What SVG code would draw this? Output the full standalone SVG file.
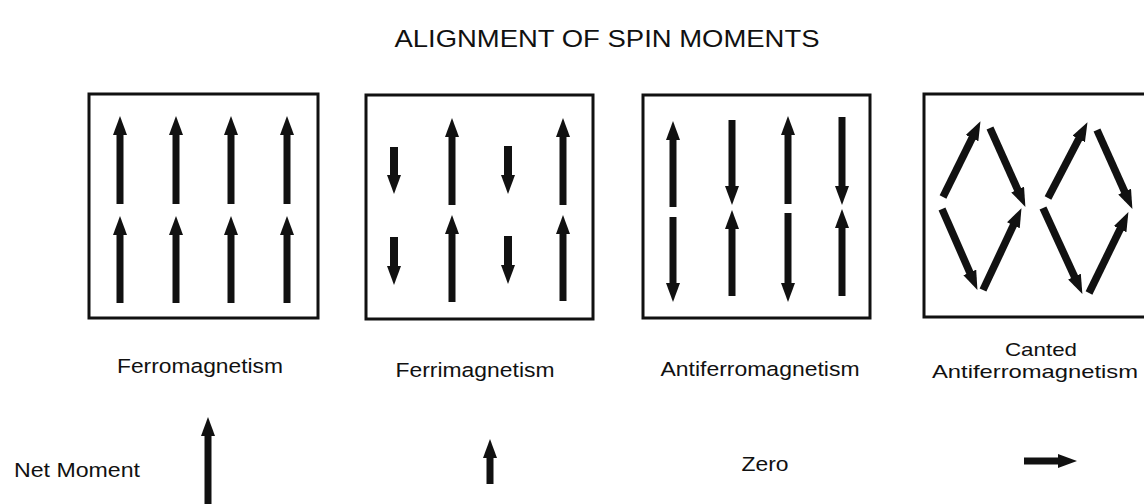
<svg xmlns="http://www.w3.org/2000/svg" width="1144" height="504" viewBox="0 0 1144 504">
<style>
text{font-family:"Liberation Sans",Arial,sans-serif;fill:#111;}
.t{font-size:24px;text-anchor:middle;}
.l{font-size:20.5px;text-anchor:middle;}
.s{font-size:19px;text-anchor:middle;}
.box{fill:none;stroke:#111;stroke-width:3;}
.a{stroke:#111;stroke-width:7;fill:none;marker-end:url(#h);}
.c{stroke:#111;stroke-width:7.5;fill:none;marker-end:url(#h);}
</style>
<defs>
<marker id="h" markerUnits="userSpaceOnUse" markerWidth="21" markerHeight="16" refX="8" refY="7" orient="auto">
<path d="M0,0 L19,7 L0,14 z" fill="#111"/>
</marker>
</defs>
<rect width="1144" height="504" fill="#fff"/>
<text class="t" x="607" y="47" textLength="425" lengthAdjust="spacingAndGlyphs">ALIGNMENT OF SPIN MOMENTS</text>

<g id="ferromagnetism">
<rect class="box" x="89" y="94" width="229" height="224"/>
<text class="l" x="200" y="373" textLength="166" lengthAdjust="spacingAndGlyphs">Ferromagnetism</text>
</g>
<g id="ferrimagnetism">
<rect class="box" x="366" y="95" width="227" height="224"/>
<text class="l" x="475" y="377" textLength="159" lengthAdjust="spacingAndGlyphs">Ferrimagnetism</text>
</g>
<g id="antiferromagnetism">
<rect class="box" x="643" y="95" width="227" height="223"/>
<text class="l" x="760" y="376" textLength="199" lengthAdjust="spacingAndGlyphs">Antiferromagnetism</text>
</g>
<g id="canted">
<rect class="box" x="924" y="94" width="230" height="223"/>
<text class="s" x="1041" y="356" textLength="72" lengthAdjust="spacingAndGlyphs">Canted</text>
<text class="s" x="1035" y="378" textLength="206" lengthAdjust="spacingAndGlyphs">Antiferromagnetism</text>
</g>
<g id="net-moment">
<text class="l" x="77" y="477" textLength="126" lengthAdjust="spacingAndGlyphs">Net Moment</text>
<text class="l" x="765" y="471" textLength="47" lengthAdjust="spacingAndGlyphs">Zero</text>
</g>

<g id="connectors">
<!-- ferro -->
<line class="a" x1="120" y1="204" x2="120" y2="127"/>
<line class="a" x1="176" y1="204" x2="176" y2="127"/>
<line class="a" x1="231" y1="204" x2="231" y2="127"/>
<line class="a" x1="287" y1="204" x2="287" y2="127"/>
<line class="a" x1="120" y1="303" x2="120" y2="227"/>
<line class="a" x1="176" y1="303" x2="176" y2="227"/>
<line class="a" x1="231" y1="303" x2="231" y2="227"/>
<line class="a" x1="287" y1="303" x2="287" y2="227"/>
<!-- ferri -->
<line class="a" x1="394" y1="147" x2="394" y2="183" style="stroke-width:8"/>
<line class="a" x1="394" y1="237" x2="394" y2="274" style="stroke-width:8"/>
<line class="a" x1="508" y1="146" x2="508" y2="183" style="stroke-width:8"/>
<line class="a" x1="508" y1="236" x2="508" y2="273" style="stroke-width:8"/>
<line class="a" x1="452" y1="205" x2="452" y2="129"/>
<line class="a" x1="452" y1="302" x2="452" y2="226"/>
<line class="a" x1="563" y1="205" x2="563" y2="129"/>
<line class="a" x1="563" y1="301" x2="563" y2="226"/>
<!-- antiferro -->
<line class="a" x1="673" y1="207" x2="673" y2="132"/>
<line class="a" x1="673" y1="217" x2="673" y2="291"/>
<line class="a" x1="732" y1="120" x2="732" y2="194"/>
<line class="a" x1="732" y1="296" x2="732" y2="221"/>
<line class="a" x1="788" y1="204" x2="788" y2="127"/>
<line class="a" x1="788" y1="213" x2="788" y2="291"/>
<line class="a" x1="842" y1="117" x2="842" y2="194"/>
<line class="a" x1="842" y1="296" x2="842" y2="220"/>
<!-- canted -->
<line class="c" x1="943" y1="197" x2="975.6" y2="131"/>
<line class="c" x1="990" y1="128" x2="1020.9" y2="196.9"/>
<line class="c" x1="942" y1="209" x2="973" y2="279.8"/>
<line class="c" x1="983" y1="290" x2="1016.8" y2="218.1"/>
<line class="c" x1="1048" y1="198" x2="1082.4" y2="131.9"/>
<line class="c" x1="1097" y1="130" x2="1127.9" y2="198.9"/>
<line class="c" x1="1043" y1="208" x2="1077.8" y2="283.9"/>
<line class="c" x1="1089" y1="293" x2="1123.6" y2="222"/>
<!-- net moments -->
<line class="a" x1="208" y1="506" x2="208" y2="428"/>
<line class="a" x1="490" y1="484" x2="490" y2="450"/>
<line class="a" x1="1024" y1="461" x2="1066" y2="461"/>
</g>
</svg>
